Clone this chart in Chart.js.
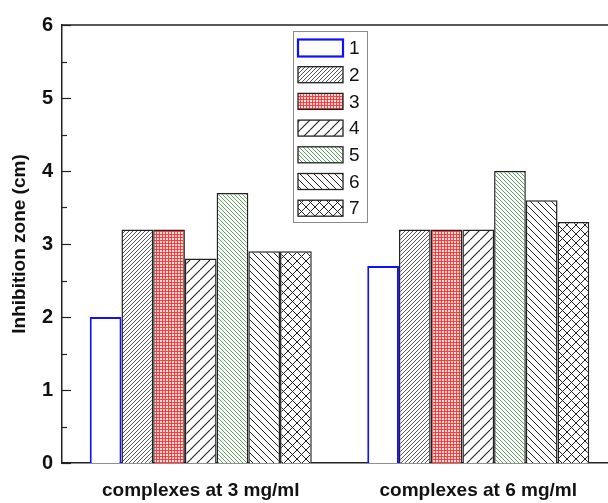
<!DOCTYPE html>
<html>
<head>
<meta charset="utf-8">
<script src="https://cdn.jsdelivr.net/npm/chart.js@4"></script>
<style>
html,body{margin:0;padding:0;background:#fff;overflow:hidden;}
#wrap{width:640px;height:503px;}
</style>
</head>
<body>
<div id="wrap"><canvas id="c" width="640" height="503"></canvas></div>
<script>
// ---- data ----
const categories = ['complexes at 3 mg/ml', 'complexes at 6 mg/ml'];
const seriesLabels = ['1', '2', '3', '4', '5', '6', '7'];
const series1 = [2.0, 2.7];
const series2 = [3.2, 3.2];
const series3 = [3.2, 3.2];
const series4 = [2.8, 3.2];
const series5 = [3.7, 4.0];
const series6 = [2.9, 3.6];
const series7 = [2.9, 3.3];
const yTickValues = [0, 1, 2, 3, 4, 5, 6];
const yMinorValues = [0.5, 1.5, 2.5, 3.5, 4.5, 5.5];

// ---- patterns ----
function hatch(size, dirs, color, lw, bg) {
  const cv = document.createElement('canvas');
  cv.width = size; cv.height = size;
  const g = cv.getContext('2d');
  g.fillStyle = bg; g.fillRect(0, 0, size, size);
  g.strokeStyle = color; g.lineWidth = lw;
  for (const d of dirs) {
    for (let k = -1; k <= 1; k++) {
      g.beginPath();
      if (d === '/') { g.moveTo(k * size, size); g.lineTo(k * size + size, 0); }
      else { g.moveTo(k * size, 0); g.lineTo(k * size + size, size); }
      g.stroke();
    }
  }
  return g.createPattern(cv, 'repeat');
}
function grid(size, color, bg) {
  const cv = document.createElement('canvas');
  cv.width = size; cv.height = size;
  const g = cv.getContext('2d');
  g.fillStyle = bg; g.fillRect(0, 0, size, size);
  g.fillStyle = color;
  g.fillRect(0, 0, size, 1);
  g.fillRect(0, 0, 1, size);
  return g.createPattern(cv, 'repeat');
}
const ctx = document.getElementById('c').getContext('2d');
const fills = [
  '#ffffff',
  hatch(4, ['/'], '#444444', 0.9, '#ffffff'),
  grid(3, 'rgba(255,40,40,0.85)', '#ffdcdc'),
  hatch(10, ['/'], '#222222', 1.1, '#ffffff'),
  hatch(4, ['\\'], '#47a047', 0.9, '#ffffff'),
  hatch(7, ['\\'], '#222222', 1.0, '#ffffff'),
  hatch(9, ['/', '\\'], '#222222', 1.0, '#ffffff')
];
const borders = ['#1010ff', '#222', '#222', '#222', '#222', '#222', '#222'];
const allSeries = [series1, series2, series3, series4, series5, series6, series7];

const datasets = allSeries.map((s, i) => ({
  label: seriesLabels[i],
  data: s,
  backgroundColor: fills[i],
  borderColor: borders[i],
  borderWidth: i === 0 ? 2 : 1.5,
  barPercentage: 1.0,
  categoryPercentage: 0.8
}));

const framePlugin = {
  id: 'frame',
  afterDraw(chart) {
    const c = chart.ctx, a = chart.chartArea, y = chart.scales.y;
    c.save();
    c.strokeStyle = '#222'; c.lineWidth = 1.5;
    // top frame line
    c.beginPath(); c.moveTo(a.left, a.top); c.lineTo(chart.width, a.top); c.stroke();
    // inward ticks
    c.lineWidth = 1.2;
    for (const v of yTickValues) {
      const py = Math.round(y.getPixelForValue(v)) + 0.5;
      c.beginPath(); c.moveTo(a.left, py); c.lineTo(a.left + 9, py); c.stroke();
    }
    for (const v of yMinorValues) {
      const py = Math.round(y.getPixelForValue(v)) + 0.5;
      c.beginPath(); c.moveTo(a.left, py); c.lineTo(a.left + 5, py); c.stroke();
    }
    // legend
    const lx = 293, ly = 31, lw = 74, lh = 191;
    c.fillStyle = '#fff'; c.fillRect(lx, ly, lw, lh);
    c.strokeStyle = '#8a8a8a'; c.lineWidth = 1;
    c.strokeRect(lx + 0.5, ly + 0.5, lw, lh);
    chart.data.datasets.forEach((ds, i) => {
      const cy = 48 + i * 26.7;
      const sx = 298, sw = 45, sh = i === 0 ? 17 : 16;
      c.fillStyle = ds.backgroundColor;
      c.fillRect(sx, cy - sh / 2, sw, sh);
      c.strokeStyle = ds.borderColor; c.lineWidth = i === 0 ? 2.2 : 1.3;
      c.strokeRect(sx, cy - sh / 2, sw, sh);
      c.fillStyle = '#111';
      c.font = '19px "Liberation Sans", Arial, sans-serif';
      c.textBaseline = 'middle'; c.textAlign = 'left';
      c.fillText(ds.label, 349, cy + 1);
    });
    c.restore();
  }
};

new Chart(ctx, {
  type: 'bar',
  data: { labels: categories, datasets },
  plugins: [framePlugin],
  options: {
    responsive: false,
    animation: false,
    layout: { padding: { top: 25, right: 23, left: 8, bottom: 0 } },
    plugins: { legend: { display: false }, tooltip: { enabled: false } },
    scales: {
      x: {
        grid: { display: false, drawTicks: false },
        border: { display: true, color: '#222', width: 1.5 },
        ticks: {
          color: '#111', padding: 16,
          font: { family: '"Liberation Sans", Arial, sans-serif', size: 19, weight: 'bold' }
        },
        afterFit(s) { s.height = 40; }
      },
      y: {
        min: 0, max: 6,
        grid: { display: false, drawTicks: false },
        border: { display: true, color: '#222', width: 1.5 },
        afterBuildTicks(s) { s.ticks = yTickValues.map(v => ({ value: v })); },
        ticks: {
          color: '#111', padding: 9,
          font: { family: '"Liberation Sans", Arial, sans-serif', size: 20, weight: 'bold' }
        },
        title: {
          display: true, text: 'Inhibition zone (cm)', color: '#111',
          font: { family: '"Liberation Sans", Arial, sans-serif', size: 19, weight: 'bold' },
          padding: { top: 0, bottom: 0 }
        },
        afterFit(s) { s.width = 54; }
      }
    }
  }
});
</script>
</body>
</html>
